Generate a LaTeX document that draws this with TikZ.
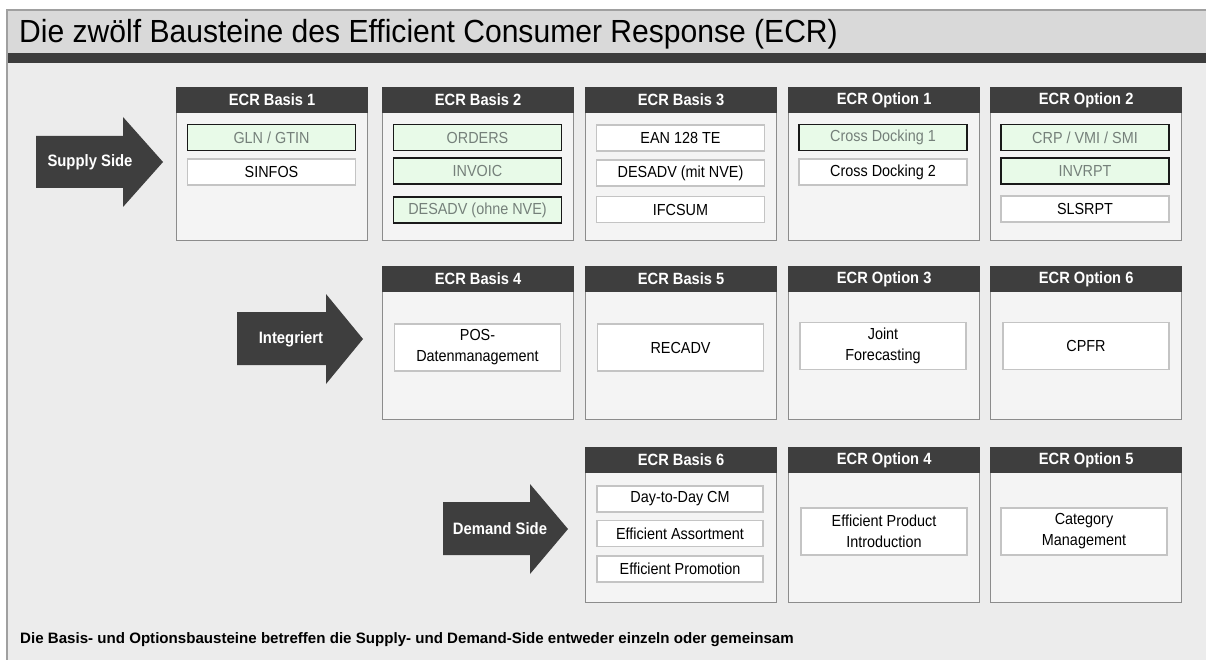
\documentclass[tikz,border=0pt]{standalone}
\usepackage{fontspec}
\setmainfont{Liberation Sans}
\newfontfamily\condfont{Liberation Sans}[FakeStretch=0.9]
\newfontfamily\titlefont{Liberation Sans}[FakeStretch=0.94]
\definecolor{bodybg}{HTML}{ECECEC}
\definecolor{titlebg}{HTML}{D9D9D9}
\definecolor{darkbar}{HTML}{3C3C3C}
\definecolor{framegray}{HTML}{A0A0A0}
\definecolor{boxfill}{HTML}{F4F4F4}
\definecolor{boxline}{HTML}{8C8C8C}
\definecolor{hdrfill}{HTML}{3E3E3E}
\definecolor{itemline}{HTML}{C4C4C4}
\definecolor{mint}{HTML}{E8FAE8}
\definecolor{minttext}{HTML}{75807A}
\begin{document}
\begin{tikzpicture}[x=1pt,y=-1pt,
  colbox/.style={draw=boxline, line width=1.3pt, fill=boxfill, minimum width=191pt, anchor=north west, inner sep=0pt},
  hdr/.style={fill=hdrfill, draw=hdrfill, line width=1.3pt, text=white, font=\condfont\bfseries\fontsize{16.3}{18}\selectfont, minimum width=191pt, minimum height=25pt, anchor=north west, inner sep=0pt},
  item/.style={draw=itemline, fill=white, line width=1.1pt, minimum width=168pt, minimum height=26pt, inner sep=0pt, font=\condfont\fontsize{16}{18}\selectfont, align=center},
  gitem/.style={item, draw=black!90, line width=1.8pt, fill=mint, text=minttext},
  bigitem/.style={item, minimum width=166pt, minimum height=47pt, font=\condfont\fontsize{16}{21}\selectfont},
  arrtxt/.style={text=white, font=\condfont\bfseries\fontsize{16.5}{18}\selectfont, inner sep=0pt}
]
\useasboundingbox (0,0) rectangle (1206,660);
% frame
\fill[bodybg] (7,10) rectangle (1206,660);
\fill[titlebg] (7,10) rectangle (1206,53);
\fill[darkbar] (7,53) rectangle (1206,63);
\draw[framegray, line width=1.5pt] (7,660) -- (7,10) -- (1206,10);
\node[anchor=base west, font=\titlefont\fontsize{32}{36}\selectfont, inner sep=0pt] (title) at (19,43) {Die zwölf Bausteine des Efficient Consumer Response (ECR)};

% arrows
\fill[hdrfill] (36,136) -- (123,136) -- (123,117) -- (163,162) -- (123,207) -- (123,188) -- (36,188) -- cycle;
\node[arrtxt] (supply) at (90,162) {Supply Side};
\fill[hdrfill] (237,312) -- (326,312) -- (326,294) -- (363,339) -- (326,384) -- (326,365) -- (237,365) -- cycle;
\node[arrtxt] (integ) at (291,339) {Integriert};
\fill[hdrfill] (443,502) -- (530,502) -- (530,484) -- (568,529) -- (530,574) -- (530,555) -- (443,555) -- cycle;
\node[arrtxt] (demand) at (500,529) {Demand Side};

% row 1
\node[colbox, minimum height=153pt] (b1) at (176,87) {};
\node[hdr] (b1h) at (176,87) {ECR Basis 1};
\node[gitem] (b1a) at (271.5,137.5) {GLN / GTIN};
\node[item] (b1b) at (271.5,172) {SINFOS};

\node[colbox, minimum height=153pt] (b2) at (382,87) {};
\node[hdr] (b2h) at (382,87) {ECR Basis 2};
\node[gitem] (b2a) at (477.5,137.5) {ORDERS};
\node[gitem] (b2b) at (477.5,171) {INVOIC};
\node[gitem] (b2c) at (477.5,210) {DESADV (ohne NVE)};

\node[colbox, minimum height=153pt] (b3) at (585,87) {};
\node[hdr] (b3h) at (585,87) {ECR Basis 3};
\node[item] (b3a) at (680.5,138) {EAN 128 TE};
\node[item] (b3b) at (680.5,173) {DESADV (mit NVE)};
\node[item] (b3c) at (680.5,209.5) {IFCSUM};

\node[colbox, minimum height=153pt] (o1) at (788,87) {};
\node[hdr] (o1h) at (788,87) {ECR Option 1};
\node[gitem] (o1a) at (883,137.5) {Cross Docking 1};
\node[item] (o1b) at (883,172) {Cross Docking 2};

\node[colbox, minimum height=153pt] (o2) at (990,87) {};
\node[hdr] (o2h) at (990,87) {ECR Option 2};
\node[gitem] (o2a) at (1085,137.5) {CRP / VMI / SMI};
\node[gitem] (o2b) at (1085,171) {INVRPT};
\node[item] (o2c) at (1085,209) {SLSRPT};

% row 2
\node[colbox, minimum height=153pt] (b4) at (382,266) {};
\node[hdr] (b4h) at (382,266) {ECR Basis 4};
\node[bigitem] (b4a) at (477.5,347.5) {POS-\\Datenmanagement};

\node[colbox, minimum height=153pt] (b5) at (585,266) {};
\node[hdr] (b5h) at (585,266) {ECR Basis 5};
\node[bigitem] (b5a) at (680.5,347.5) {RECADV};

\node[colbox, minimum height=153pt] (o3) at (788,266) {};
\node[hdr] (o3h) at (788,266) {ECR Option 3};
\node[bigitem] (o3a) at (883,346) {Joint\\Forecasting};

\node[colbox, minimum height=153pt] (o6) at (990,266) {};
\node[hdr] (o6h) at (990,266) {ECR Option 6};
\node[bigitem] (o6a) at (1086,346) {CPFR};

% row 3
\node[colbox, minimum height=155pt] (b6) at (585,447) {};
\node[hdr] (b6h) at (585,447) {ECR Basis 6};
\node[item, minimum width=166pt] (b6a) at (680,499) {Day-to-Day CM};
\node[item, minimum width=166pt] (b6b) at (680,533.5) {Efficient Assortment};
\node[item, minimum width=166pt] (b6c) at (680,569) {Efficient Promotion};

\node[colbox, minimum height=155pt] (o4) at (788,447) {};
\node[hdr] (o4h) at (788,447) {ECR Option 4};
\node[bigitem] (o4a) at (884,531.5) {Efficient Product\\Introduction};

\node[colbox, minimum height=155pt] (o5) at (990,447) {};
\node[hdr] (o5h) at (990,447) {ECR Option 5};
\node[bigitem] (o5a) at (1084,531.5) {Category\\Management};

% footer
\node[anchor=base west, font=\bfseries\fontsize{15.1}{17}\selectfont, inner sep=0pt] (foot) at (20,643) {Die Basis- und Optionsbausteine betreffen die Supply- und Demand-Side entweder einzeln oder gemeinsam};
\end{tikzpicture}
\end{document}
